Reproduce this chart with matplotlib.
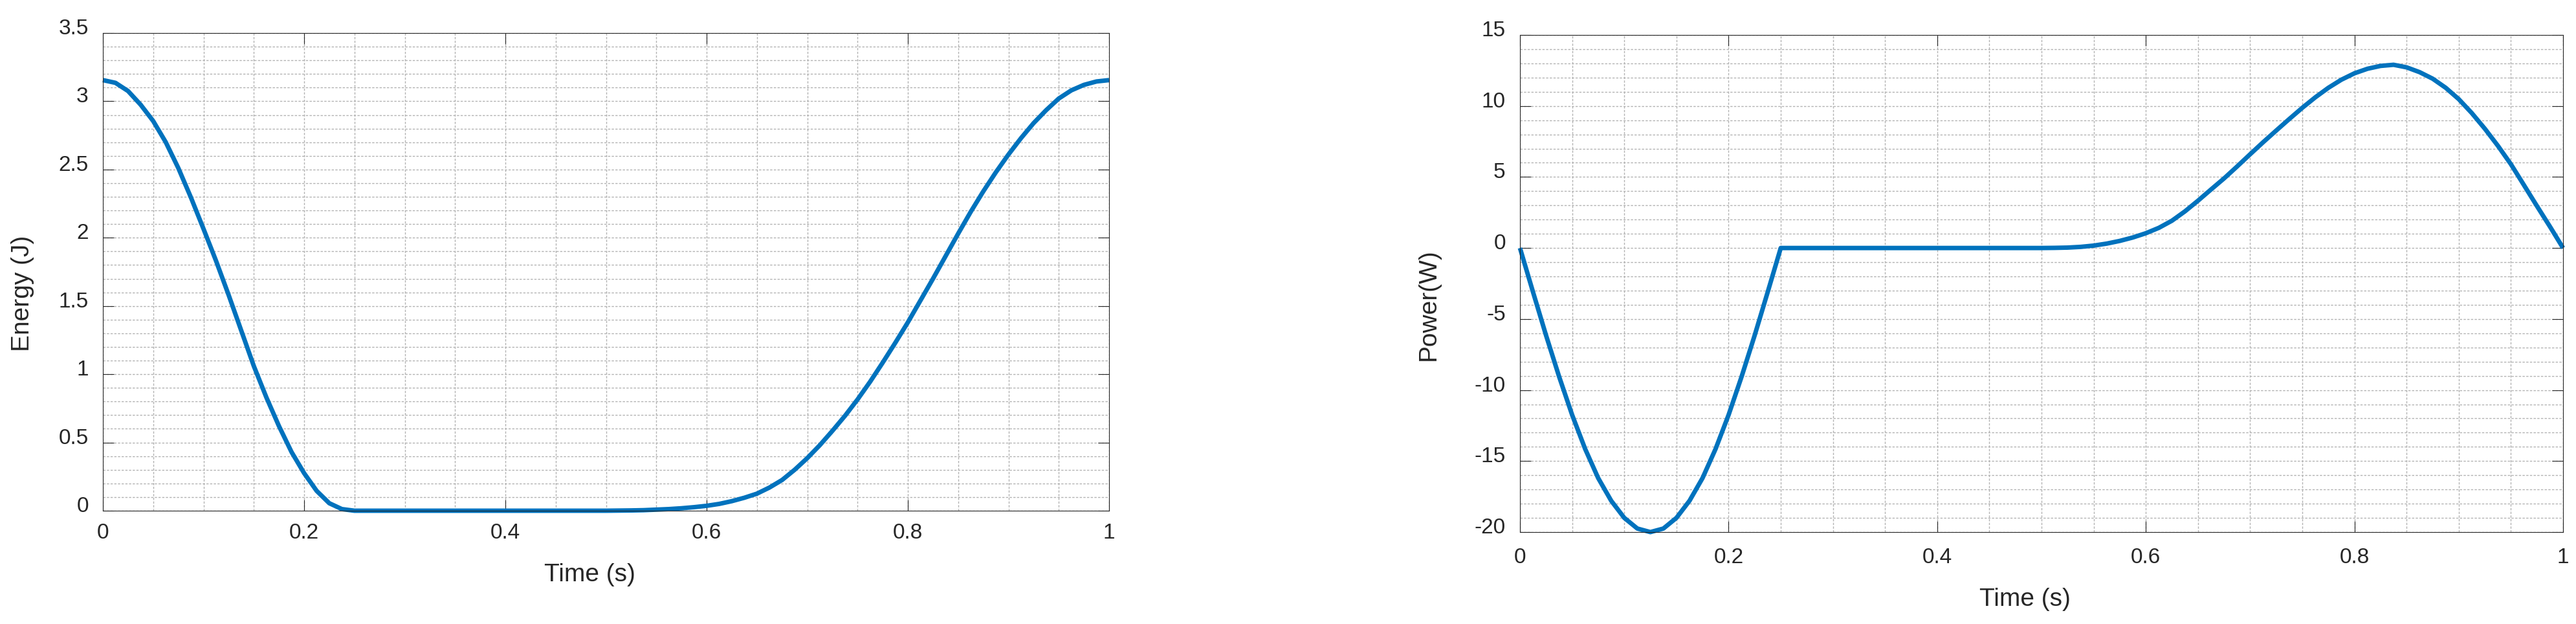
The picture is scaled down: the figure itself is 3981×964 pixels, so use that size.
import matplotlib
matplotlib.use("Agg")
import matplotlib.pyplot as plt
from matplotlib.ticker import MultipleLocator, FuncFormatter
from matplotlib.transforms import ScaledTranslation

plt.rcParams['font.family'] = ['Liberation Sans', 'DejaVu Sans']
plt.rcParams['axes.unicode_minus'] = False

LINE_COLOR = '#0072BD'
AX_COLOR = '#262626'
GRID_COLOR = '#b3b3b3'

# energy curve
time_energy = [0.0, 0.0125, 0.025, 0.0375, 0.05, 0.0625, 0.075, 0.0875, 0.1, 0.1125,
               0.125, 0.1375, 0.15, 0.1625, 0.175, 0.1875, 0.2, 0.2125, 0.225, 0.2375,
               0.25, 0.3, 0.35, 0.4, 0.45, 0.5,
               0.5125, 0.525, 0.5375, 0.55, 0.5625, 0.575, 0.5875, 0.6, 0.6125, 0.625,
               0.6375, 0.65, 0.6625, 0.675, 0.6875, 0.7, 0.7125, 0.725, 0.7375, 0.75,
               0.7625, 0.775, 0.7875, 0.8, 0.8125, 0.825, 0.8375, 0.85, 0.8625, 0.875,
               0.8875, 0.9, 0.9125, 0.925, 0.9375, 0.95, 0.9625, 0.975, 0.9875, 1.0]
energy = [3.155, 3.135, 3.075, 2.975, 2.855, 2.70, 2.51, 2.295, 2.065, 1.83,
          1.58, 1.32, 1.06, 0.83, 0.62, 0.43, 0.275, 0.145, 0.055, 0.012,
          0.0, 0.0, 0.0, 0.0, 0.0, 0.0,
          0.001, 0.002, 0.004, 0.008, 0.012, 0.018, 0.026, 0.036, 0.05, 0.07,
          0.095, 0.125, 0.17, 0.225, 0.30, 0.385, 0.48, 0.585, 0.695, 0.815,
          0.945, 1.085, 1.23, 1.38, 1.54, 1.70, 1.865, 2.03, 2.19, 2.34,
          2.48, 2.61, 2.73, 2.84, 2.935, 3.02, 3.08, 3.12, 3.145, 3.155]

# power curve
time_power = [0.0, 0.0125, 0.025, 0.0375, 0.05, 0.0625, 0.075, 0.0875, 0.1, 0.1125,
              0.125, 0.1375, 0.15, 0.1625, 0.175, 0.1875, 0.2, 0.2125, 0.225, 0.2375,
              0.25, 0.3, 0.35, 0.4, 0.45, 0.5,
              0.5125, 0.525, 0.5375, 0.55, 0.5625, 0.575, 0.5875, 0.6, 0.6125, 0.625,
              0.6375, 0.65, 0.6625, 0.675, 0.6875, 0.7, 0.7125, 0.725, 0.7375, 0.75,
              0.7625, 0.775, 0.7875, 0.8, 0.8125, 0.825, 0.8375, 0.85, 0.8625, 0.875,
              0.8875, 0.9, 0.9125, 0.925, 0.9375, 0.95, 0.9625, 0.975, 0.9875, 1.0]
power = [0.0, -3.1, -6.15, -9.05, -11.75, -14.15, -16.2, -17.8, -19.0, -19.75,
         -20.0, -19.75, -19.0, -17.8, -16.2, -14.15, -11.75, -9.05, -6.15, -3.1,
         0.0, 0.0, 0.0, 0.0, 0.0, 0.0,
         0.01, 0.03, 0.08, 0.17, 0.31, 0.5, 0.74, 1.04, 1.42, 1.92,
         2.58, 3.33, 4.12, 4.9, 5.74, 6.6, 7.45, 8.27, 9.08, 9.87,
         10.61, 11.28, 11.85, 12.3, 12.62, 12.82, 12.9, 12.72, 12.38, 11.92,
         11.28, 10.48, 9.5, 8.4, 7.2, 5.9, 4.43, 2.95, 1.5, 0.0]

xticks = [0, 0.2, 0.4, 0.6, 0.8, 1]

W, H = 3981, 964
fig = plt.figure(figsize=(W / 100, H / 100), dpi=100)


def axes_px(left, top, right, bottom):
    return fig.add_axes([left / W, 1 - bottom / H, (right - left) / W, (bottom - top) / H])


def style(ax, ymin, ymax, ymajor, yminor, xpad):
    ax.set_xlim(0, 1)
    ax.set_ylim(ymin, ymax)
    ax.set_xticks(xticks)
    ax.xaxis.set_minor_locator(MultipleLocator(0.05))
    ax.yaxis.set_major_locator(MultipleLocator(ymajor))
    ax.yaxis.set_minor_locator(MultipleLocator(yminor))
    fmt = FuncFormatter(lambda v, p: '%g' % round(v, 3))
    ax.xaxis.set_major_formatter(fmt)
    ax.yaxis.set_major_formatter(fmt)
    ax.tick_params(which='major', direction='in', top=True, right=True,
                   length=12, width=0.8, color=AX_COLOR, labelcolor=AX_COLOR,
                   labelsize=24)
    ax.tick_params(axis='x', which='major', pad=xpad)
    ax.tick_params(axis='y', which='major', pad=16)
    ax.tick_params(which='minor', length=0)
    ax.grid(True, which='both', color=GRID_COLOR, linewidth=1.0,
            linestyle=(0, (2.5, 1.6)))
    ax.set_axisbelow(True)
    for s in ax.spines.values():
        s.set_color(AX_COLOR)
        s.set_linewidth(0.8)
    # matlab puts the y labels a bit higher than the tick
    for lab in ax.get_yticklabels():
        lab.set_transform(lab.get_transform() + ScaledTranslation(0, 0.10, fig.dpi_scale_trans))


ax1 = axes_px(159, 51, 1714, 789)
ax1.plot(time_energy, energy, color=LINE_COLOR, linewidth=5, clip_on=False,
         solid_capstyle='butt', solid_joinstyle='round')
style(ax1, 0, 3.5, 0.5, 0.1, 14)
ax1.set_xlabel('Time (s)', fontsize=28, color=AX_COLOR, va='center')
ax1.set_ylabel('Energy (J)', fontsize=28, color=AX_COLOR, va='center', ha='center')
ax1.xaxis.set_label_coords(0.484, -0.134)
ax1.yaxis.set_label_coords(-0.0797, 0.455)

ax2 = axes_px(2349, 54, 3961, 822)
ax2.plot(time_power, power, color=LINE_COLOR, linewidth=5, clip_on=False,
         solid_capstyle='butt', solid_joinstyle='round')
style(ax2, -20, 15, 5, 1, 17)
ax2.set_xlabel('Time (s)', fontsize=28, color=AX_COLOR, va='center')
ax2.set_ylabel('Power(W)', fontsize=28, color=AX_COLOR, va='center', ha='center')
ax2.xaxis.set_label_coords(0.484, -0.135)
ax2.yaxis.set_label_coords(-0.0875, 0.457)

fig.savefig('out.png', dpi=100)
